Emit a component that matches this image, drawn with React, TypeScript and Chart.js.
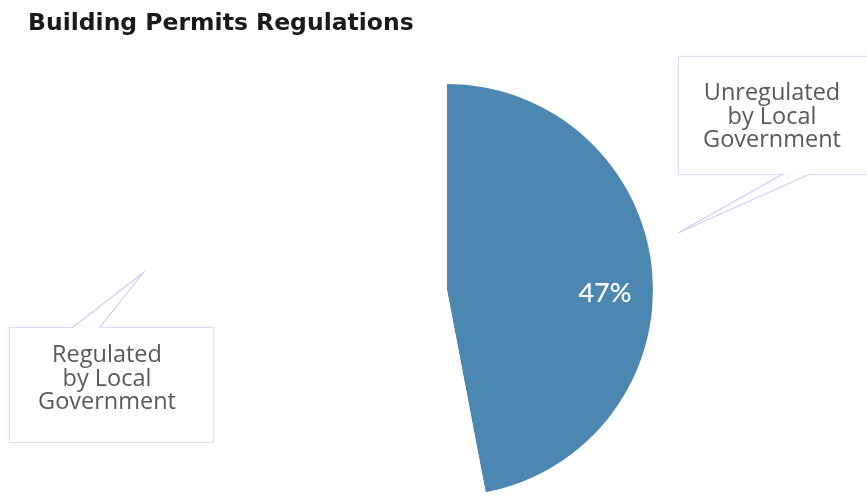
import React, { useEffect, useRef } from "react";
import { Chart, registerables } from "chart.js";

Chart.register(...registerables);

const TITLE = "Building Permits Regulations";
const categories = ["Unregulated by Local Government", "Regulated by Local Government"];
const values = [47, 53];
const sliceColors = ["#4b87b0", "#ffffff"];
const calloutLines = [
  ["Unregulated", "by Local", "Government"],
  ["Regulated", "by Local", "Government"],
];

const calloutPlugin = {
  id: "callouts",
  afterDraw(chart: any) {
    const ctx = chart.ctx;
    ctx.save();
    // title
    ctx.fillStyle = "#1a1a1a";
    ctx.font = "bold 23.5px 'DejaVu Sans'";
    ctx.textAlign = "left";
    ctx.textBaseline = "alphabetic";
    ctx.fillText(TITLE, 28, 30);

    // percentage label inside slice 0
    const meta = chart.getDatasetMeta(0);
    const total = values.reduce((a, b) => a + b, 0);
    meta.data.forEach((arc: any, i: number) => {
      if (i !== 0) return;
      const { x, y, startAngle, endAngle, outerRadius } = arc.getProps(
        ["x", "y", "startAngle", "endAngle", "outerRadius"],
        true
      );
      const mid = (startAngle + endAngle) / 2;
      const r = outerRadius * 0.77;
      ctx.fillStyle = "#ffffff";
      ctx.font = "500 27px Lato";
      ctx.textAlign = "center";
      ctx.textBaseline = "middle";
      ctx.fillText(Math.round((values[i] / total) * 100) + "%", x + Math.cos(mid) * r, y + 3);
    });

    const boxes = [
      { x: 678, y: 56, w: 200, h: 118, tip: [678, 233], base: [783, 810], textX: 772, textY: 100 },
      { x: 9, y: 327, w: 204, h: 115, tip: [143, 273], base: [73, 100], textX: 107, textY: 362 },
    ];
    boxes.forEach((b, i) => {
      ctx.fillStyle = "#ffffff";
      ctx.shadowColor = "rgba(0,0,0,0.05)";
      ctx.shadowBlur = 6;
      ctx.fillRect(b.x, b.y, b.w, b.h);
      ctx.shadowBlur = 0;
      ctx.shadowColor = "transparent";
      ctx.strokeStyle = "#dbe0f7";
      ctx.lineWidth = 1.2;
      ctx.strokeRect(b.x + 0.5, b.y + 0.5, b.w, b.h);
      // pointer
      const edgeY = i === 0 ? b.y + b.h : b.y;
      ctx.strokeStyle = "#c7d0f3";
      ctx.beginPath();
      ctx.moveTo(b.base[0], edgeY);
      ctx.lineTo(b.tip[0], b.tip[1]);
      ctx.lineTo(b.base[1], edgeY);
      ctx.stroke();
      ctx.fillStyle = "#ffffff";
      ctx.fillRect(b.base[0] + 1, edgeY - 1, b.base[1] - b.base[0] - 2, 2);

      ctx.fillStyle = "#595959";
      ctx.font = "23.5px 'Open Sans'";
      ctx.textAlign = "center";
      ctx.textBaseline = "alphabetic";
      calloutLines[i].forEach((line, k) => {
        ctx.fillText(line, b.textX, b.textY + k * 23.5);
      });
    });
    ctx.restore();
  },
};

export default function App() {
  const ref = useRef<HTMLCanvasElement | null>(null);
  useEffect(() => {
    document.body.style.margin = "0";
    const chart = new Chart(ref.current as HTMLCanvasElement, {
      type: "pie",
      data: {
        labels: categories,
        datasets: [
          {
            data: values,
            backgroundColor: sliceColors,
            borderWidth: 0,
          },
        ],
      },
      options: {
        responsive: false,
        animation: false,
        layout: { padding: { top: 84, bottom: 4, left: 241, right: 214 } },
        plugins: {
          legend: { display: false },
          tooltip: { enabled: false },
          title: { display: false },
        },
      },
      plugins: [calloutPlugin],
    });
    return () => chart.destroy();
  }, []);
  return (
    <div style={{ width: 867, height: 500, background: "#ffffff" }}>
      <canvas ref={ref} width={867} height={500} style={{ display: "block" }} />
    </div>
  );
}
